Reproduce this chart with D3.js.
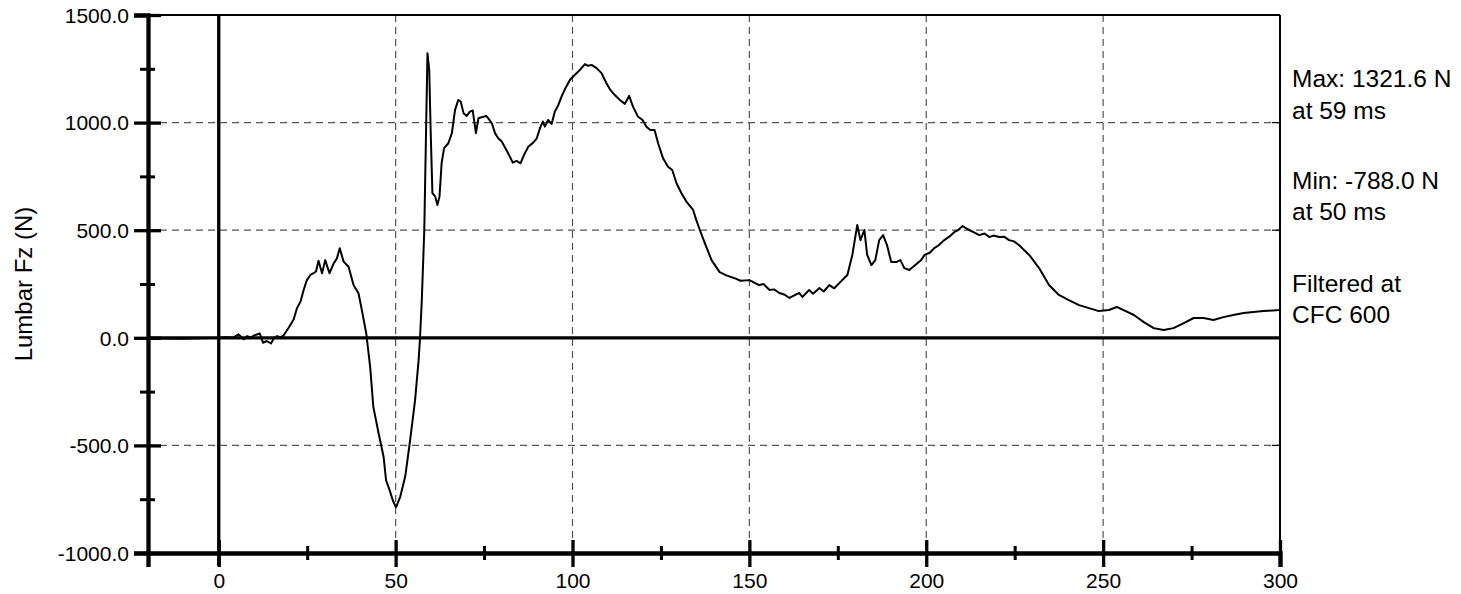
<!DOCTYPE html>
<html lang="en">
<head>
    <meta charset="UTF-8">
    <title>Lumbar Fz</title>
    <script src="https://d3js.org/d3.v7.min.js"></script>
    <style>
        body { margin: 0; background: #fff; }
        svg { display: block; }
        svg text { font-family: Arial, "Liberation Sans", sans-serif; fill: #000; }
        .grid line { stroke: #555; stroke-width: 1.2; stroke-dasharray: 7,5; }
        .tick text { font-size: 21px; }
    </style>
</head>
<body>
    <svg id="chart"></svg>
    <script>
        // time (ms) and force (N)
        const timeMs = [-18, -10, -5, 0, 2, 4, 5.6, 7.1, 8, 9.2, 9.8, 11.6, 12.5, 13.6, 14.8, 15.6, 16.5, 17.4, 18.3,
            19.8, 21.2, 22.1, 23.1, 24, 24.9, 25.9, 26.8, 27.5, 28.2, 29.2, 30.1, 31.3, 32.5, 33.4, 34.2, 35.3, 36.7,
            38.1, 39.5, 40.5, 41.7, 42.8, 43.7, 45.2, 46.6, 47.3, 48.3, 49.2, 50.1, 51.3, 52.7, 54.1, 55.5, 56.5, 56.9,
            57.4, 58.1, 59, 59.5, 59.9, 60.4, 61.2, 61.8, 62.4, 63, 63.7, 64.9, 65.9, 66.8, 67.7, 68.4, 69.2, 70.1, 71,
            71.8, 72.7, 73.4, 74.3, 75.6, 76.2, 77.2, 78.1, 79, 80, 81.2, 82.3, 83.1, 84.2, 85.3, 86.3, 87.5, 88.9, 89.9,
            90.8, 91.6, 92.2, 93.1, 94.1, 95, 96, 96.9, 98, 99.3, 100.7, 102.1, 103.5, 104.4, 105.4, 106.8, 108.2, 109.6,
            110.7, 111.9, 113.4, 114.8, 116, 117.1, 118.5, 119.8, 120.9, 122, 123.2, 124.2, 125.6, 127, 128.2, 129.4,
            130.8, 132.2, 134.1, 135, 136, 137.4, 139.3, 141.6, 143.5, 145.8, 147.5, 150, 151.5, 152.8, 154, 155.7,
            157, 158.5, 160, 161.3, 163, 164.1, 165, 166.9, 168, 169.8, 171, 172.6, 174, 175.4, 177.7, 179.1, 180.5,
            181.4, 182.5, 183.3, 184.5, 185.6, 186.7, 187.8, 188.9, 190.1, 191.5, 192.7, 193.8, 195.2, 196.9, 198.5,
            199.5, 201, 202.3, 203.5, 205.1, 206.5, 207.9, 209, 210.2, 212.1, 213.5, 215, 216.5, 217.8, 219, 220.6,
            222, 223.4, 224.8, 226.2, 229.1, 231.9, 234.7, 237.5, 240.3, 243.2, 246, 248.8, 251.6, 253.9, 255.8,
            258.7, 261.5, 264.3, 267.1, 269.9, 272.8, 275.6, 278.4, 281.2, 284, 286.8, 289.7, 292.5, 295.3, 299.6, 300];
        const forceN = [-3, -4, -2, 0, 2, 0, 16, -7, 8, 0, 10, 20, -23, -15, -26, 0, 8, 3, 10,
            48, 86, 137, 168, 222, 268, 292, 300, 308, 358, 300, 361, 300, 346, 369, 416, 354, 330,
            245, 207, 125, 20, -135, -321, -445, -553, -662, -708, -755, -788, -739, -646, -476, -290, -104, 0,
            175, 501, 1322, 1245, 966, 672, 656, 617, 656, 811, 881, 904, 951, 1059, 1105, 1098, 1044, 1031, 1051,
            1056, 951, 1020, 1025, 1031, 1020, 997, 951, 927, 912, 876, 842, 814, 822, 811, 850, 888, 907, 927,
            974, 1005, 981, 1012, 994, 1051, 1082, 1121, 1160, 1199, 1222, 1245, 1272, 1264, 1268, 1253, 1230, 1183,
            1152, 1129, 1105, 1087, 1124, 1074, 1028, 1012, 981, 966, 966, 904, 834, 795, 780, 718,
            672, 633, 594, 547, 501, 440, 361, 305, 290, 277, 265, 268, 255, 245, 250, 222,
            225, 208, 200, 185, 200, 208, 190, 222, 205, 231, 215, 245, 230, 254, 292, 385, 524,
            454, 501, 385, 338, 361, 454, 477, 431, 352, 352, 361, 324, 315, 338, 360,
            385, 395, 417, 430, 454, 470, 491, 500, 519, 501, 490, 477, 485, 468, 475, 468,
            470, 454, 448, 431, 385, 324, 245, 199, 175, 152, 138, 124, 129, 143, 129,
            106, 73, 45, 36, 45, 68, 92, 92, 83, 96, 106, 115, 120, 124, 129, 130];

        const xMajor = [0, 50, 100, 150, 200, 250, 300];
        const xMinor = [25, 75, 125, 175, 225, 275];
        const yMajor = [-1000, -500, 0, 500, 1000, 1500];
        const yMinor = [-750, -250, 250, 750, 1250];
        const yGrid = [-500, 500, 1000];
        const xGrid = [50, 100, 150, 200, 250];
        const notes = [["Max: 1321.6 N", 87], ["at 59 ms", 119], ["Min: -788.0 N", 189], ["at 50 ms", 220],
            ["Filtered at", 292], ["CFC 600", 323]];

        const W = 1461, H = 594;
        const pLeft = 148, pRight = 1280, pTop = 15, pBottom = 553;

        const svg = d3.select("#chart").attr("width", W).attr("height", H);

        const x = d3.scaleLinear().domain([-20, 300]).range([pLeft, pRight]);
        const y = d3.scaleLinear().domain([-1000, 1500]).range([pBottom, pTop]);

        // grid
        const grid = svg.append("g").attr("class", "grid");
        grid.selectAll(".gx").data(xGrid).enter().append("line")
            .attr("x1", d => x(d)).attr("x2", d => x(d)).attr("y1", pTop).attr("y2", pBottom);
        grid.selectAll(".gy").data(yGrid).enter().append("line")
            .attr("x1", pLeft).attr("x2", pRight).attr("y1", d => y(d)).attr("y2", d => y(d));

        // top and right frame
        svg.append("line").attr("x1", pLeft).attr("x2", pRight).attr("y1", pTop).attr("y2", pTop)
            .attr("stroke", "#000").attr("stroke-width", 2);
        svg.append("line").attr("x1", pRight).attr("x2", pRight).attr("y1", pTop).attr("y2", pBottom)
            .attr("stroke", "#000").attr("stroke-width", 2);
        svg.selectAll(".rt").data(yMajor.slice(1, -1)).enter().append("line")
            .attr("x1", pRight - 8).attr("x2", pRight).attr("y1", d => y(d)).attr("y2", d => y(d))
            .attr("stroke", "#000").attr("stroke-width", 1.2);

        // zero lines
        svg.append("line").attr("x1", x(0)).attr("x2", x(0)).attr("y1", pTop).attr("y2", pBottom + 13)
            .attr("stroke", "#000").attr("stroke-width", 3.3);
        svg.append("line").attr("x1", pLeft).attr("x2", pRight).attr("y1", y(0)).attr("y2", y(0))
            .attr("stroke", "#000").attr("stroke-width", 3.3);

        // trace
        const pts = timeMs.map((t, i) => [t, forceN[i]]);
        svg.append("path").datum(pts)
            .attr("fill", "none").attr("stroke", "#000").attr("stroke-width", 2)
            .attr("stroke-linejoin", "round")
            .attr("d", d3.line().x(d => x(d[0])).y(d => y(d[1])));

        const fmt1 = v => d3.format(".1f")(v).replace("\u2212", "-");

        // y axis
        const yAxis = svg.append("g").attr("transform", `translate(${pLeft},0)`)
            .call(d3.axisLeft(y).tickValues(yMajor).tickFormat(fmt1).tickSize(14).tickPadding(5));
        yAxis.attr("font-family", null).attr("font-size", null);
        yAxis.select(".domain").attr("stroke-width", 4.3);
        yAxis.selectAll(".tick line").attr("x2", -14).attr("x1", 13).attr("stroke-width", 3.3);
        yAxis.selectAll(".tick text").attr("dy", "0.35em");
        svg.append("g").attr("transform", `translate(${pLeft},0)`)
            .call(d3.axisLeft(y).tickValues(yMinor).tickFormat("").tickSize(8))
            .call(g => g.select(".domain").remove())
            .selectAll(".tick line").attr("x1", 7).attr("stroke-width", 3);

        // x axis
        const xAxis = svg.append("g").attr("transform", `translate(0,${pBottom})`)
            .call(d3.axisBottom(x).tickValues(xMajor).tickFormat(d3.format("d")).tickSize(14).tickPadding(6));
        xAxis.attr("font-family", null).attr("font-size", null);
        xAxis.select(".domain").attr("stroke-width", 4.3);
        xAxis.selectAll(".tick line").attr("y1", -13).attr("stroke-width", 3.3);
        svg.append("g").attr("transform", `translate(0,${pBottom})`)
            .call(d3.axisBottom(x).tickValues(xMinor).tickFormat("").tickSize(7))
            .call(g => g.select(".domain").remove())
            .selectAll(".tick line").attr("y1", -7).attr("stroke-width", 3);

        // axis title
        svg.append("text")
            .attr("transform", `translate(32,${(pTop + pBottom) / 2}) rotate(-90)`)
            .attr("text-anchor", "middle")
            .style("font-size", "24px")
            .text("Lumbar Fz (N)");

        // notes on the right
        svg.selectAll(".note").data(notes).enter().append("text")
            .attr("x", pRight + 12).attr("y", d => d[1])
            .style("font-size", "24.5px")
            .text(d => d[0]);
    </script>
</body>
</html>
